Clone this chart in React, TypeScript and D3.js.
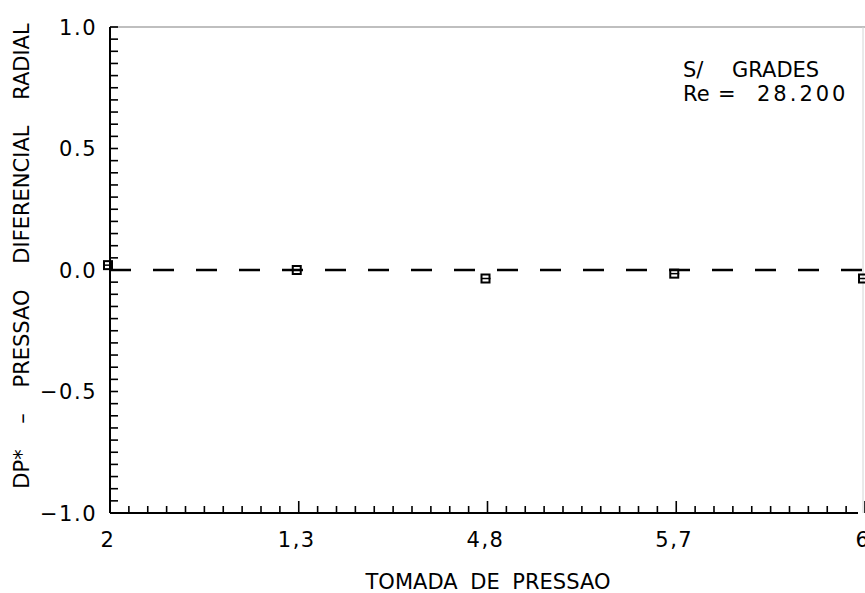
import React from 'react';
import * as d3 from 'd3';

// Tomadas de pressao (categorias do eixo x) e DP* medido
const tomadas = ['2', '1,3', '4,8', '5,7', '6'];
const dpValues = [0.02, 0.0, -0.035, -0.015, -0.035];
const yTickValues = [-1, -0.5, 0, 0.5, 1];
const yTickLabels = ['\u22121.0', '\u22120.5', '0.0', '0.5', '1.0'];

const W = 865;
const H = 593;
const FONT = "'DejaVu Sans', 'Liberation Sans', sans-serif";

const App: React.FC = () => {
  const x = d3.scaleLinear().domain([0, tomadas.length - 1]).range([110, 865]);
  const y = d3.scaleLinear().domain([-1, 1]).range([513, 27]);

  const xMinor = d3.range(1, (tomadas.length - 1) * 10 + 1).map(i => i / 10);
  const yMinor = d3.range(-20, 21).map(i => i / 20);

  return (
    <svg width={W} height={H} style={{ position: 'absolute', left: 0, top: 0, background: '#fff' }}>
      {/* moldura: topo e lado direito apagados */}
      <line x1={x(0)} x2={W} y1={y(1)} y2={y(1)} stroke="#aaa" strokeWidth={1.5} />
      <line x1={863} x2={863} y1={y(1)} y2={y(-1)} stroke="#d4d4d4" strokeWidth={1} />

      {/* eixo y */}
      <line x1={x(0)} x2={x(0)} y1={y(1)} y2={y(-1)} stroke="#000" strokeWidth={2} />
      {yMinor.map((v, i) => (
        <line key={'ym' + i} x1={x(0)} x2={x(0) + 8} y1={y(v)} y2={y(v)}
          stroke="#000" strokeWidth={1.6} />
      ))}
      {yTickValues.map((v, i) => (
        <text key={'yl' + i} x={97} y={y(v)} dy="0.36em" textAnchor="end"
          fontFamily={FONT} fontSize={21} fill="#000" letterSpacing={1.5}>
          {yTickLabels[i]}
        </text>
      ))}

      {/* eixo x */}
      <line x1={x(0)} x2={858} y1={y(-1)} y2={y(-1)} stroke="#000" strokeWidth={2} />
      {xMinor.map((v, i) => {
        const major = Math.abs(v - Math.round(v)) < 1e-6;
        return (
          <line key={'xm' + i} x1={x(v)} x2={x(v)} y1={y(-1)} y2={y(-1) - (major ? 12 : 7)}
            stroke="#000" strokeWidth={1.6} />
        );
      })}
      {tomadas.map((t, i) => (
        <text key={'xl' + t} x={x(i) - 2} y={547} textAnchor="middle"
          fontFamily={FONT} fontSize={21} fill="#000" letterSpacing={1.5}>
          {t}
        </text>
      ))}
      <text x={488} y={589} textAnchor="middle" fontFamily={FONT} fontSize={21}
        fill="#000" wordSpacing={6}>
        TOMADA DE PRESSAO
      </text>
      <text transform={`translate(29,${256}) rotate(-90)`} textAnchor="middle"
        fontFamily={FONT} fontSize={21} fill="#000" wordSpacing={19}>
        DP* – PRESSAO DIFERENCIAL RADIAL
      </text>

      {/* linha de referencia DP* = 0 */}
      <line x1={x(0)} x2={W} y1={y(0)} y2={y(0)} stroke="#000" strokeWidth={2.5}
        strokeDasharray="21,22" />

      {/* pontos medidos */}
      {dpValues.map((v, i) => (
        <g key={'p' + i} transform={`translate(${x(i) - 2},${y(v)})`}>
          <rect x={-4} y={-4} width={8} height={8} fill="none" stroke="#000" strokeWidth={2} />
          <line x1={-4} x2={5} y1={0} y2={0} stroke="#000" strokeWidth={1.5} />
        </g>
      ))}

      {/* legenda */}
      <g fontFamily={FONT} fontSize={21} fill="#000">
        <text x={683} y={77}>S/</text>
        <text x={732} y={77}>GRADES</text>
        <text x={683} y={101}>Re</text>
        <text x={718} y={101}>=</text>
        <text x={757} y={101} letterSpacing={3}>28.200</text>
      </g>
    </svg>
  );
};

export default App;
